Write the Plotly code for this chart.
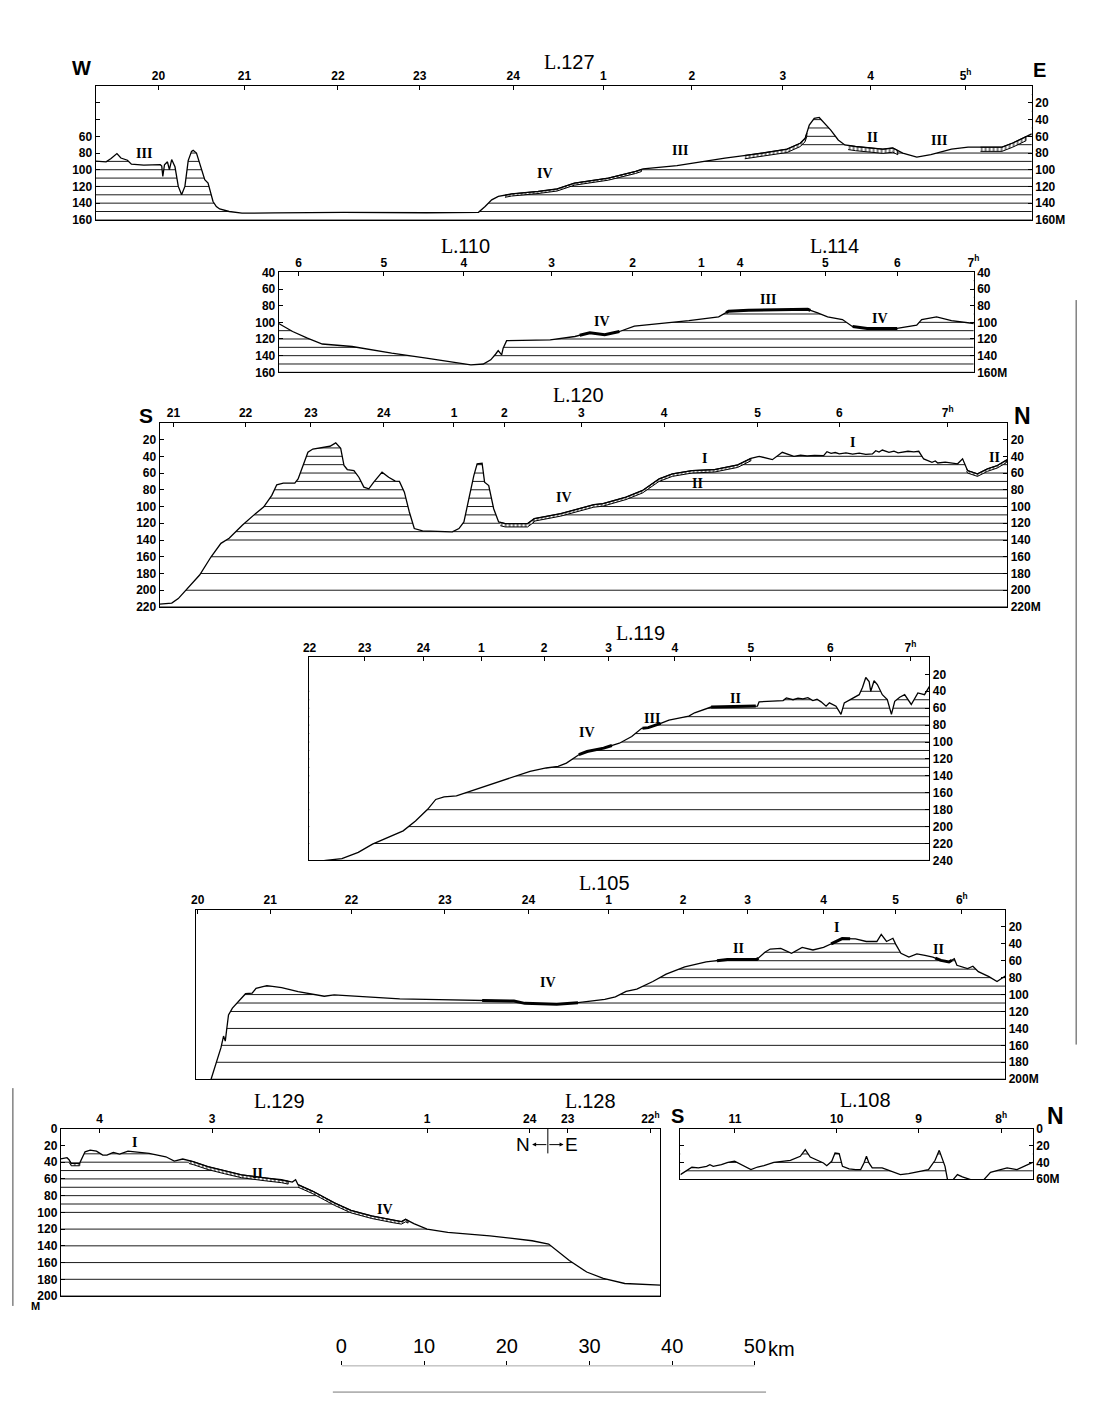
import numpy as np
import plotly.graph_objects as go

W, H = 1097, 1406
KM_PX = 8.4  # pixels per km, from the 50 km scale bar

# ---------------- data: (distance along track [km], depth [m]) ----------------
l127_profile = [
    (0.0, 89.8), (1.27, 90.5), (1.87, 86.6), (2.58, 80.7), (3.06, 86.0), (3.85, 88.6),
    (4.33, 93.3), (5.83, 94.5), (7.82, 94.0), (8.0, 95.7), (8.13, 108.0), (8.33, 94.0),
    (8.69, 90.5), (8.93, 100.0), (9.2, 87.8), (9.6, 96.5), (10.0, 120.0), (10.4, 130.0),
    (10.8, 120.0), (11.2, 89.0), (11.6, 78.0), (11.8, 76.8), (12.2, 80.0), (12.8, 98.4),
    (13.2, 112.0), (13.6, 116.0), (14.0, 132.0), (14.2, 138.0), (14.6, 144.0), (15.0, 147.0),
    (16.15, 150.0), (17.7, 152.0), (21.7, 151.6), (30.0, 151.0), (40.0, 151.5), (46.3, 151.0),
    (47.1, 144.0), (47.9, 136.0), (48.7, 132.0), (50.3, 129.0), (53.5, 126.0), (55.8, 123.0),
    (57.9, 116.0), (62.0, 110.0), (65.3, 102.0), (66.2, 99.0), (70.3, 95.0), (76.1, 86.0),
    (80.7, 80.0), (83.6, 75.4), (85.2, 68.3), (85.8, 62.4), (86.3, 46.5), (86.9, 38.6),
    (87.5, 37.4), (88.0, 42.6), (88.9, 52.5), (89.8, 64.4), (90.6, 70.3), (91.9, 72.2),
    (95.2, 75.4), (96.4, 74.0), (97.6, 80.0), (99.3, 85.0), (101.0, 82.0), (103.5, 75.4),
    (105.5, 73.0), (109.6, 73.0), (110.9, 68.0), (113.2, 57.0)]
l127_tick_km = [7.6, 18.0, 29.3, 39.2, 50.5, 61.4, 72.1, 83.1, 93.7, 105.2]
l127_tick_text = ['20', '21', '22', '23', '24', '1', '2', '3', '4', '5<sup>h</sup>']
l127_levels = [10, 20, 30, 40, 50, 60, 70, 80, 90, 100, 110, 120, 130, 140, 150, 160]
l127_sediment = [(49.5, 66.0, 2.5), (78.5, 86.0, 4.0), (91.0, 97.0, 5.0), (107.0, 112.5, 5.0)]

l110_profile = [
    (0.0, 101.4), (1.68, 111.0), (3.47, 119.0), (5.27, 126.0), (8.87, 129.0), (13.66, 137.0),
    (17.85, 143.0), (20.85, 147.0), (23.24, 151.0), (24.74, 150.0), (25.64, 145.0), (26.24, 138.0),
    (26.54, 134.0), (26.96, 139.0), (27.14, 131.0), (27.56, 122.0), (32.83, 121.0), (35.82, 117.0),
    (37.62, 112.5), (39.42, 115.0), (41.21, 111.0), (43.01, 104.5), (46.61, 101.4), (49.6, 98.0),
    (53.2, 93.5), (54.4, 86.7), (56.8, 85.5), (63.97, 84.4), (65.17, 88.7), (66.37, 93.5),
    (68.17, 96.6), (69.36, 105.0), (71.16, 107.3), (74.76, 107.3), (77.15, 103.4), (77.75, 96.6),
    (79.55, 93.5), (81.35, 98.0), (84.05, 101.4)]
l110_tick_km = [2.4, 12.7, 22.4, 33.0, 42.8, 51.1, 55.8, 66.1, 74.8, 84.0]
l110_tick_text = ['6', '5', '4', '3', '2', '1', '4', '5', '6', '7<sup>h</sup>']
l110_levels = [50, 60, 70, 80, 90, 100, 110, 120, 130, 140, 150, 160]
l110_bold = [(36.4, 41.2), (54.1, 64.3), (69.4, 74.8)]

l120_profile = [
    (0.0, 216.6), (1.47, 215.4), (2.26, 210.0), (3.25, 199.6), (4.84, 181.8), (6.23, 160.0),
    (7.42, 144.0), (8.41, 138.0), (10.0, 122.4), (11.59, 108.5), (12.58, 100.6), (13.57, 86.7),
    (14.17, 74.0), (14.96, 72.0), (16.35, 72.0), (16.75, 67.0), (17.34, 51.0), (17.94, 35.2),
    (18.53, 31.3), (19.9, 29.3), (20.6, 28.0), (21.3, 24.0), (21.9, 30.5), (22.3, 51.0),
    (22.7, 55.8), (23.5, 57.0), (24.1, 65.0), (24.7, 76.8), (25.3, 78.8), (25.9, 70.9),
    (26.5, 63.0), (26.9, 59.0), (27.7, 65.0), (28.5, 69.7), (29.0, 70.0), (29.6, 82.8),
    (30.2, 106.5), (30.8, 126.3), (31.8, 129.0), (35.4, 130.3), (36.2, 126.3), (36.8, 118.4),
    (37.4, 90.7), (38.0, 63.0), (38.4, 49.0), (39.0, 48.3), (39.3, 70.9), (39.8, 74.9),
    (40.4, 102.6), (41.0, 118.4), (41.8, 120.4), (44.5, 120.4), (45.3, 114.5), (48.5, 108.5),
    (52.5, 97.8), (53.6, 96.6), (56.4, 88.7), (58.4, 80.8), (60.4, 67.0), (62.0, 61.0),
    (64.4, 57.0), (67.1, 55.8), (69.9, 50.3), (71.5, 42.4), (72.5, 40.0), (74.1, 44.0),
    (75.3, 35.2), (76.7, 40.0), (77.5, 38.5), (78.3, 39.5), (79.2, 38.8), (80.3, 39.2),
    (80.7, 34.5), (81.2, 36.5), (81.7, 35.5), (82.2, 37.2), (83.0, 36.0), (83.8, 37.5),
    (84.6, 36.2), (85.4, 37.8), (86.2, 37.2), (86.6, 33.3), (87.0, 35.0), (87.4, 32.5),
    (88.2, 35.2), (88.8, 33.8), (89.3, 36.0), (89.8, 35.2), (90.5, 34.0), (91.2, 34.8),
    (91.8, 34.0), (92.4, 43.2), (93.4, 47.1), (93.8, 45.5), (94.1, 48.0), (95.0, 47.0),
    (96.5, 49.0), (97.1, 43.0), (97.7, 57.0), (98.9, 61.0), (100.1, 55.0), (101.3, 51.0),
    (102.5, 44.0)]
l120_tick_km = [1.67, 10.4, 18.3, 27.1, 35.6, 41.7, 51.0, 61.0, 72.3, 82.2, 95.3]
l120_tick_text = ['21', '22', '23', '24', '1', '2', '3', '4', '5', '6', '7<sup>h</sup>']
l120_levels = [30, 40, 50, 60, 70, 80, 90, 100, 110, 120, 130, 140, 160, 180, 200, 220]
l120_sediment = [(41.2, 45.3, 4.0), (45.3, 71.5, 3.0), (97.6, 102.4, 3.0)]

l119_profile = [
    (0.0, 243.0), (1.98, 240.0), (3.95, 238.0), (5.93, 230.5), (7.65, 220.7), (9.38, 213.7),
    (11.36, 205.0), (12.85, 193.3), (14.32, 179.6), (15.3, 167.9), (16.3, 164.8), (17.8, 163.6),
    (19.26, 158.9), (20.75, 154.2), (22.7, 148.3), (24.7, 141.7), (26.7, 134.6), (28.65, 130.7),
    (30.1, 128.8), (31.1, 124.9), (32.6, 115.0), (33.6, 111.2), (35.6, 107.2), (37.5, 101.4),
    (39.0, 93.5), (40.2, 83.8), (41.0, 83.0), (42.5, 77.9), (43.5, 74.0), (45.9, 69.3),
    (46.6, 65.4), (48.6, 58.6), (51.4, 58.0), (54.2, 57.5), (54.4, 52.5), (57.3, 51.0),
    (57.7, 47.9), (58.5, 50.0), (59.1, 48.0), (59.7, 49.0), (60.3, 47.5), (60.9, 51.0),
    (61.4, 49.5), (61.9, 52.5), (62.5, 57.6), (62.9, 53.7), (63.7, 57.6), (64.3, 67.3),
    (64.7, 53.7), (65.7, 47.9), (66.5, 44.0), (66.9, 35.4), (67.3, 23.7), (67.7, 28.4),
    (67.9, 40.0), (68.3, 27.6), (68.7, 32.0), (69.3, 44.0), (69.9, 49.8), (70.4, 67.3),
    (70.8, 51.8), (71.4, 47.0), (72.0, 44.0), (72.8, 55.6), (73.6, 42.0), (74.4, 44.0),
    (75.0, 34.2)]
l119_tick_km = [0.04, 6.7, 13.8, 20.8, 28.4, 36.2, 44.2, 53.4, 63.0, 72.7]
l119_tick_text = ['22', '23', '24', '1', '2', '3', '4', '5', '6', '7<sup>h</sup>']
l119_levels = [40, 50, 60, 70, 80, 90, 100, 110, 120, 130, 140, 160, 180, 200, 220, 240]
l119_bold = [(32.6, 36.6), (40.3, 42.5), (48.6, 54.0)]

l105_profile = [
    (1.82, 200.0), (2.42, 182.4), (3.01, 163.0), (3.33, 149.0), (3.54, 155.0), (3.73, 139.5),
    (3.93, 124.0), (4.40, 116.0), (5.20, 108.0), (5.99, 99.0), (6.79, 98.4), (7.26, 92.6),
    (8.57, 89.5), (10.36, 91.8), (12.35, 96.5), (14.32, 100.4), (15.51, 102.0), (16.7, 100.4),
    (19.08, 101.6), (22.26, 103.0), (24.64, 105.0), (29.4, 106.0), (34.58, 107.0), (38.45, 107.7),
    (39.75, 110.4), (43.62, 111.5), (46.19, 109.6), (49.43, 105.8), (50.71, 102.7), (52.01, 96.2),
    (53.3, 93.5), (55.24, 84.6), (56.85, 75.8), (59.1, 67.3), (61.69, 61.5), (64.26, 58.5),
    (67.81, 58.5), (68.79, 50.0), (69.43, 46.2), (70.71, 45.4), (72.01, 51.2), (73.3, 44.2),
    (74.6, 47.3), (75.88, 44.2), (77.17, 38.5), (78.14, 33.8), (79.75, 34.2), (81.05, 37.3),
    (82.33, 37.3), (82.86, 28.8), (83.5, 37.3), (84.27, 33.5), (84.6, 40.4), (85.24, 51.2),
    (86.2, 55.8), (87.17, 51.9), (88.14, 53.8), (89.1, 55.8), (90.08, 59.6), (91.05, 61.5),
    (91.69, 57.7), (92.01, 65.4), (93.3, 69.2), (93.94, 66.5), (94.6, 73.0), (95.88, 78.8),
    (96.86, 84.6), (97.5, 80.8), (97.86, 78.0)]
l105_tick_km = [0.2, 8.97, 18.8, 30.1, 40.2, 49.9, 58.9, 66.7, 75.9, 84.6, 92.6]
l105_tick_text = ['20', '21', '22', '23', '24', '1', '2', '3', '4', '5', '6<sup>h</sup>']
l105_levels = [40, 50, 60, 70, 80, 90, 100, 110, 120, 140, 160, 180, 200]
l105_bold = [(34.6, 46.2), (63.0, 68.0), (76.8, 79.1), (89.4, 91.4)]

l129_profile = [
    (0.0, 36.0), (0.76, 34.6), (1.0, 37.0), (1.26, 41.3), (2.28, 41.3), (2.64, 34.6),
    (2.94, 27.6), (3.56, 25.6), (4.32, 26.8), (5.08, 31.5), (5.59, 31.5), (6.35, 28.3),
    (7.12, 30.3), (8.13, 26.8), (9.15, 27.6), (10.68, 29.5), (12.71, 33.5), (13.73, 38.6),
    (14.75, 36.2), (16.02, 39.4), (17.8, 45.3), (19.83, 50.4), (21.87, 55.1), (24.9, 59.0),
    (26.7, 61.0), (28.0, 63.8), (28.4, 61.0), (28.7, 66.9), (30.5, 74.8), (33.1, 88.6),
    (35.1, 97.6), (37.6, 104.3), (40.2, 109.4), (41.2, 111.0), (41.7, 108.3), (42.7, 113.4),
    (44.3, 120.0), (46.8, 124.0), (51.9, 128.0), (57.0, 133.9), (59.0, 137.8), (61.5, 157.5),
    (63.6, 171.3), (65.6, 179.0), (68.2, 185.0), (72.5, 187.0)]
l129_tick_km = [4.7, 18.3, 31.3, 44.3, 56.7, 61.3, 71.3]
l129_tick_text = ['4', '3', '2', '1', '24', '23', '22<sup>h</sup>']
l129_levels = [30, 40, 50, 60, 70, 80, 90, 100, 120, 140, 160, 180, 200]
l129_sediment = [(1.0, 2.3, 3.0), (15.5, 27.5, 3.5), (28.7, 42.0, 3.0)]

l108_profile = [
    (0.0, 54.5), (0.6, 50.6), (1.39, 45.8), (2.18, 46.6), (3.17, 44.7), (3.57, 42.7),
    (3.97, 44.7), (4.96, 42.7), (5.75, 39.9), (6.55, 38.7), (7.14, 41.5), (7.74, 44.7),
    (8.53, 48.6), (9.33, 45.5), (10.1, 43.9), (11.3, 39.9), (12.1, 38.7), (13.3, 37.5),
    (14.5, 32.8), (15.1, 24.9), (15.7, 33.6), (16.5, 37.5), (17.3, 40.7), (17.7, 43.9),
    (18.3, 38.7), (18.7, 28.9), (19.2, 29.6), (19.6, 44.7), (20.4, 47.8), (21.2, 48.6),
    (21.8, 48.6), (22.2, 40.7), (22.5, 32.8), (22.8, 40.7), (23.2, 46.6), (24.4, 46.6),
    (26.0, 51.8), (26.6, 54.5), (27.6, 53.4), (28.8, 50.6), (30.0, 48.6), (30.8, 37.5),
    (31.3, 25.7), (32.0, 44.7), (32.3, 60.5), (32.9, 61.3), (33.5, 54.5), (34.1, 57.3),
    (35.1, 60.5), (36.1, 62.0), (36.7, 60.5), (37.5, 51.8), (39.5, 46.6), (40.7, 48.6),
    (41.5, 44.7), (42.3, 40.7), (42.6, 39.9)]
l108_tick_km = [6.6, 18.9, 28.8, 38.8]
l108_tick_text = ['11', '10', '9', '8<sup>h</sup>']
l108_levels = [30, 40, 50]

scale_km = [0, 10, 20, 30, 40, 50]

# ---------------- styles / helpers ----------------
TICKFONT = dict(family='Liberation Sans', size=12, color='black', weight='bold')
fig = go.Figure()
layout = {}
annotations = []
shapes = []


def px_ann(text, x, y, size, family='Liberation Sans', bold=False, xanchor='center'):
    annotations.append(dict(text=text, x=x / W, y=1 - y / H, xref='paper', yref='paper',
                            showarrow=False, xanchor=xanchor, yanchor='middle',
                            font=dict(family=family, size=size, color='black',
                                      weight='bold' if bold else 'normal')))


def px_line(x0, y0, x1, y1, color='#444', width=1):
    shapes.append(dict(type='line', xref='paper', yref='paper', x0=x0 / W, x1=x1 / W,
                       y0=1 - y0 / H, y1=1 - y1 / H, line=dict(color=color, width=width)))


def add_panel(i, prof, box, yrange, levels, tick_km, tick_text, lvals, ltext, rvals, rtext,
              seds=(), bolds=(), numerals=()):
    n = i + 1
    xid = 'x' if n == 1 else f'x{n}'
    yid = 'y' if n == 1 else f'y{n}'
    rid = f'y{n + 8}'
    left, right, top, bottom = box
    xr = (right - left) / KM_PX
    km = np.array([p[0] for p in prof])
    dep = np.array([p[1] for p in prof])
    ybot, ytop = yrange
    common = dict(xaxis=xid, yaxis=yid, hoverinfo='skip', showlegend=False)
    # horizontal hatch levels
    hx, hy = [], []
    for L in levels:
        hx += [0, xr, None]
        hy += [L, L, None]
    fig.add_trace(go.Scatter(x=hx, y=hy, mode='lines', line=dict(color='black', width=0.9), **common))
    # white water column above the profile
    cx = [0.0] + list(km) + [xr, xr, 0.0]
    cy = [dep[0]] + list(dep) + [dep[-1], ytop, ytop]
    fig.add_trace(go.Scatter(x=cx, y=cy, fill='toself', fillcolor='white', mode='lines',
                             line=dict(width=0, color='white'), **common))
    # sediment bands
    for a, b, t in seds:
        xs = [a] + [k for k in km if a < k < b] + [b]
        ys = np.interp(xs, km, dep)
        fig.add_trace(go.Scatter(x=list(xs) + list(xs[::-1]), y=list(ys) + list((ys + t)[::-1]),
                                 fill='toself', fillcolor='white', mode='lines',
                                 fillpattern=dict(shape='|', size=4, solidity=0.5,
                                                  fgcolor='black', bgcolor='white'),
                                 line=dict(color='black', width=1.0), **common))
    # sea floor profile
    fig.add_trace(go.Scatter(x=km, y=dep, mode='lines', line=dict(color='black', width=1.3), **common))
    for a, b in bolds:
        xs = [a] + [k for k in km if a < k < b] + [b]
        ys = np.interp(xs, km, dep)
        fig.add_trace(go.Scatter(x=xs, y=ys, mode='lines', line=dict(color='black', width=3.0), **common))
    # dummy trace so the right-hand axis is drawn
    fig.add_trace(go.Scatter(x=[0], y=[ytop], xaxis=xid, yaxis=rid, mode='markers',
                             marker=dict(opacity=0), hoverinfo='skip', showlegend=False))
    for txt, xk, yd in numerals:
        annotations.append(dict(text=txt, x=xk, y=yd, xref=xid, yref=yid, showarrow=False,
                                font=dict(family='Liberation Serif', size=14, color='black',
                                          weight='bold')))
    dom_x = [left / W, right / W]
    dom_y = [1 - bottom / H, 1 - top / H]
    axl = dict(showline=True, linecolor='black', linewidth=1, showgrid=False, zeroline=False,
               tickcolor='black', tickfont=TICKFONT, fixedrange=True)
    layout['xaxis' if n == 1 else f'xaxis{n}'] = dict(
        domain=dom_x, range=[0, xr], anchor=yid, side='top', mirror=True, ticks='inside',
        ticklen=4, tickvals=tick_km, ticktext=tick_text, **axl)
    layout['yaxis' if n == 1 else f'yaxis{n}'] = dict(
        domain=dom_y, range=[ybot, ytop], anchor=xid, side='left',
        ticks='inside' if lvals else '', ticklen=4, tickvals=lvals, ticktext=ltext,
        showticklabels=bool(lvals), **axl)
    layout[f'yaxis{n + 8}'] = dict(
        overlaying=yid, anchor=xid, side='right', range=[ybot, ytop],
        ticks='inside' if rvals else '', ticklen=4, tickvals=rvals, ticktext=rtext,
        showticklabels=bool(rvals), **axl)


def lab(vals, last_suffix=''):
    t = [str(v) for v in vals]
    if last_suffix:
        t[-1] = t[-1] + last_suffix
    return t


# L.127
v = [20, 40, 60, 80, 100, 120, 140, 160]
add_panel(0, l127_profile, (91, 1042, 80, 215), (160, 0), l127_levels, l127_tick_km, l127_tick_text,
          v, ['', ''] + lab(v[2:]), v, lab(v, 'M'), seds=l127_sediment,
          numerals=[('III', 5.8, 80), ('IV', 54.4, 104), ('III', 70.7, 77), ('II', 93.9, 62),
                    ('III', 102.0, 65)])
# L.110 / L.114
v = [40, 60, 80, 100, 120, 140, 160]
add_panel(1, l110_profile, (277, 983, 268, 369), (160, 40), l110_levels, l110_tick_km, l110_tick_text,
          v, lab(v), v, lab(v, 'M'), bolds=l110_bold,
          numerals=[('IV', 39.1, 99), ('III', 59.2, 72), ('IV', 72.7, 95)])
# L.120
v = [20, 40, 60, 80, 100, 120, 140, 160, 180, 200, 220]
add_panel(2, l120_profile, (156, 1017, 420, 606), (220, 0), l120_levels, l120_tick_km, l120_tick_text,
          v, lab(v), v, lab(v, 'M'), seds=l120_sediment,
          numerals=[('IV', 48.9, 89), ('I', 65.9, 43), ('II', 65.0, 72), ('I', 83.8, 23),
                    ('II', 101.0, 41)])
# L.119
v = [20, 40, 60, 80, 100, 120, 140, 160, 180, 200, 220, 240]
add_panel(3, l119_profile, (308, 938, 657, 862), (240, 0), l119_levels, l119_tick_km, l119_tick_text,
          [], [], v, lab(v), bolds=l119_bold,
          numerals=[('IV', 33.6, 89), ('III', 41.5, 72), ('II', 51.6, 49)])
# L.105
v = [20, 40, 60, 80, 100, 120, 140, 160, 180, 200]
add_panel(4, l105_profile, (193, 1015, 912, 1083), (200, 0), l105_levels, l105_tick_km, l105_tick_text,
          [], [], v, lab(v, 'M'), bolds=l105_bold,
          numerals=[('IV', 42.6, 86), ('II', 65.6, 45), ('I', 77.5, 21), ('II', 89.8, 47)])
# L.129 / L.128
v = [0, 20, 40, 60, 80, 100, 120, 140, 160, 180, 200]
add_panel(5, l129_profile, (55.6, 664.5, 1133, 1302), (200, 0), l129_levels, l129_tick_km, l129_tick_text,
          v, lab(v), [], [], seds=l129_sediment,
          numerals=[('I', 8.9, 17), ('II', 23.8, 53), ('IV', 39.2, 96)])
# L.108
v = [0, 20, 40, 60]
add_panel(6, l108_profile, (685, 1043, 1133, 1184), (60, 0), l108_levels, l108_tick_km, l108_tick_text,
          [20, 40], ['', ''], v, lab(v, 'M'))

# N <- | -> E marker on L.129 / L.128
shapes.append(dict(type='line', xref='x6', yref='y6', x0=58.9, x1=58.9, y0=0, y1=29.5,
                   line=dict(color='black', width=1)))
for xe in (57.0, 60.8):
    annotations.append(dict(text='', x=xe, y=19, ax=58.9, ay=19, xref='x6', yref='y6',
                            axref='x6', ayref='y6', showarrow=True, arrowhead=2, arrowsize=0.8,
                            arrowwidth=1, arrowcolor='black'))
annotations.append(dict(text='N', x=55.9, y=19, xref='x6', yref='y6', showarrow=False,
                        font=dict(family='Liberation Sans', size=19, color='black')))
annotations.append(dict(text='E', x=61.8, y=19, xref='x6', yref='y6', showarrow=False,
                        font=dict(family='Liberation Sans', size=19, color='black')))

# scale bar
fig.add_trace(go.Scatter(x=[scale_km[0], scale_km[-1]], y=[1, 1], xaxis='x8', yaxis='y8',
                         mode='lines', line=dict(color='black', width=1),
                         hoverinfo='skip', showlegend=False))
layout['xaxis8'] = dict(domain=[340.7 / W, 760.7 / W], range=[0, 50], anchor='y8', side='top',
                        showline=False, ticks='outside', ticklen=4, tickcolor='black',
                        tickvals=scale_km, ticktext=[str(s) for s in scale_km], showgrid=False,
                        zeroline=False, tickfont=dict(family='Liberation Sans', size=20, color='black'))
layout['yaxis8'] = dict(domain=[1 - 1380 / H, 1 - 1372.3 / H], range=[0, 1], visible=False,
                        anchor='x8')
px_ann('km', 772, 1356, 20, xanchor='left')

# titles and compass letters
title_fmt = '<span style="font-family:Liberation Serif">L.</span>{}'
for num, x, y in [('127', 572, 56), ('110', 467, 241), ('114', 842, 241), ('120', 582, 392),
                  ('119', 644, 632), ('105', 608, 885), ('129', 278, 1105), ('128', 594, 1105),
                  ('108', 873, 1104)]:
    px_ann(title_fmt.format(num), x, y, 20)
for t, x, y, s in [('W', 77, 62, 20), ('E', 1050, 64, 20), ('S', 142, 413, 21), ('N', 1032, 413, 23),
                   ('S', 682, 1120, 20), ('N', 1066, 1120, 23)]:
    px_ann(t, x, y, s, bold=True)
px_ann('M', 30, 1312, 11, bold=True)

# page edges visible in the scanned original
px_line(1087, 296, 1087, 1048)
px_line(7, 1092, 7, 1312)
px_line(332, 1399, 772, 1399, color='#777')

fig.update_layout(width=W, height=H, margin=dict(l=0, r=0, t=0, b=0), paper_bgcolor='white',
                  plot_bgcolor='white', showlegend=False, annotations=annotations, shapes=shapes,
                  **layout)
fig.write_html('out.html', config={'displayModeBar': False},
               post_script="document.body.style.margin='0px';document.body.style.padding='0px';")
